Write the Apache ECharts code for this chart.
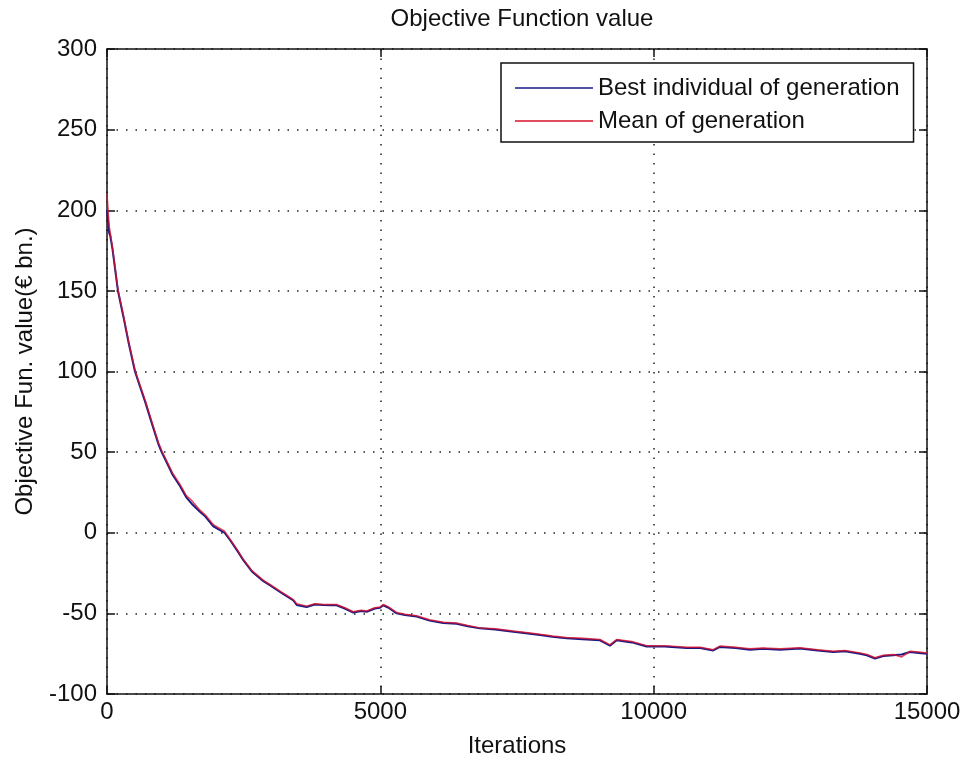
<!DOCTYPE html>
<html>
<head>
<meta charset="utf-8">
<script src="https://cdn.jsdelivr.net/npm/echarts@6/dist/echarts.min.js"></script>
<style>html,body{margin:0;padding:0;background:#fff;}#c{width:963px;height:765px;}</style>
</head>
<body>
<div id="c"></div>
<script>
const titleText = 'Objective Function value';
const xName = 'Iterations';
const yName = 'Objective Fun. value(\u20ac bn.)';
const seriesNames = ['Best individual of generation', 'Mean of generation'];

const iterations = [0, 20, 40, 60, 100, 150, 200, 300, 400, 512, 600, 700, 800, 940, 1000, 1100, 1200, 1335, 1450, 1549, 1700, 1800, 1945, 2150, 2250, 2400, 2494, 2650, 2860, 3000, 3200, 3410, 3470, 3652, 3800, 3957, 4100, 4200, 4350, 4505, 4650, 4750, 4900, 4994, 5054, 5150, 5299, 5450, 5665, 5900, 6152, 6396, 6600, 6823, 7100, 7432, 7700, 7920, 8150, 8408, 8700, 9018, 9200, 9323, 9600, 9872, 10200, 10604, 10850, 11090, 11212, 11500, 11761, 12000, 12310, 12676, 13000, 13285, 13500, 13773, 13900, 14048, 14200, 14383, 14536, 14688, 14850, 15000];

const bestValues = [200, 193, 186, 184, 176, 163, 150, 134, 117, 100, 91, 81, 70, 55, 50, 43, 36, 29, 22, 18, 13, 10, 4, 0, -4.5, -12, -17, -24, -30, -33, -37.5, -42, -44.8, -46, -44.5, -44.8, -45, -45, -47, -49.5, -48.5, -49, -47, -46.5, -45, -46.5, -50, -51, -52, -54.5, -56, -56.5, -58, -59.3, -60, -61.4, -62.5, -63.4, -64.5, -65.5, -66, -66.7, -70, -66.7, -68, -70.5, -70.5, -71.5, -71.5, -73, -70.8, -71.5, -72.5, -72, -72.5, -71.8, -73, -74, -73.5, -75, -76, -78, -76.5, -76, -75.5, -74, -74.5, -75];

const meanValues = [210, 200, 190, 186, 177, 164, 151, 135, 118, 101, 92, 82, 71, 56, 51, 44, 37, 30, 23, 20, 14, 11, 5, 1, -4, -11.5, -16.5, -23.5, -29.5, -32.5, -37, -41.5, -44, -45.5, -44, -44.5, -44.5, -44.5, -46.5, -49, -48, -48.5, -46.5, -46, -44.5, -46, -49.5, -50.5, -51.5, -54, -55.5, -56, -57.5, -59, -59.5, -61, -62, -63, -64, -65, -65.5, -66.2, -69.5, -66.2, -67.5, -70, -70, -71, -71, -72.5, -70.3, -71, -72, -71.5, -72, -71.3, -72.5, -73.5, -73, -74.5, -75.5, -77.5, -76, -75.5, -77, -73.5, -74, -74.5];

const xTicks = {min: 0, max: 15000, interval: 5000};
const yTicks = {min: -100, max: 300, interval: 50};

const FONT = '"Liberation Sans", Arial, sans-serif';
const FS = 24;
const chart = echarts.init(document.getElementById('c'), null, {renderer: 'canvas'});

const gridDots = {show: true, lineStyle: {color: '#222', width: 1.5, type: [1.5, 8]}};
const axisLine = {show: true, onZero: false, lineStyle: {color: '#111', width: 1.5}};
const tick = {show: true, inside: true, length: 8, lineStyle: {color: '#111', width: 1.5}};
const plain = v => String(v);

chart.setOption({
  animation: false,
  backgroundColor: '#fff',
  title: {
    text: titleText, left: 517, top: 2, textAlign: 'center',
    textStyle: {fontFamily: FONT, fontSize: FS, fontWeight: 'normal', color: '#111'}
  },
  grid: {left: 107, right: 36, top: 49, bottom: 71, containLabel: false, outerBoundsMode: 'none'},
  legend: {
    data: seriesNames.map(n => ({name: n, icon: 'rect'})),
    orient: 'vertical', left: 501, top: 63,
    padding: [11, 14, 7, 14], itemGap: 5, itemWidth: 78, itemHeight: 1.5,
    backgroundColor: '#fff', borderColor: '#111', borderWidth: 1.5,
    textStyle: {fontFamily: FONT, fontSize: FS, color: '#111', lineHeight: 28}
  },
  xAxis: [{
    type: 'value', min: xTicks.min, max: xTicks.max, interval: xTicks.interval,
    name: xName, nameLocation: 'middle', nameGap: 40,
    nameTextStyle: {fontFamily: FONT, fontSize: FS, color: '#111'},
    axisLine: axisLine, axisTick: tick, splitLine: gridDots,
    axisLabel: {fontFamily: FONT, fontSize: FS, color: '#111', margin: 6, formatter: plain}
  }, {
    type: 'value', position: 'top', min: xTicks.min, max: xTicks.max, interval: xTicks.interval,
    axisLine: axisLine, axisTick: tick, splitLine: {show: false}, axisLabel: {show: false}
  }],
  yAxis: [{
    type: 'value', min: yTicks.min, max: yTicks.max, interval: yTicks.interval,
    name: yName, nameLocation: 'middle', nameGap: 70,
    nameTextStyle: {fontFamily: FONT, fontSize: FS, color: '#111'},
    axisLine: axisLine, axisTick: tick, splitLine: gridDots,
    axisLabel: {fontFamily: FONT, fontSize: FS, color: '#111', margin: 10, formatter: plain}
  }, {
    type: 'value', position: 'right', min: yTicks.min, max: yTicks.max, interval: yTicks.interval,
    axisLine: axisLine, axisTick: tick, splitLine: {show: false}, axisLabel: {show: false}
  }],
  series: [{
    name: seriesNames[0], type: 'line', symbol: 'none', showSymbol: false,
    data: iterations.map((x, i) => [x, bestValues[i]]),
    lineStyle: {color: '#1a1a86', width: 2}, itemStyle: {color: '#1a1a86'}, z: 3
  }, {
    name: seriesNames[1], type: 'line', symbol: 'none', showSymbol: false,
    data: iterations.map((x, i) => [x, meanValues[i]]),
    lineStyle: {color: '#d8102a', width: 1.5, opacity: 0.8}, itemStyle: {color: '#d8102a'}, z: 4
  }]
});
</script>
</body>
</html>
